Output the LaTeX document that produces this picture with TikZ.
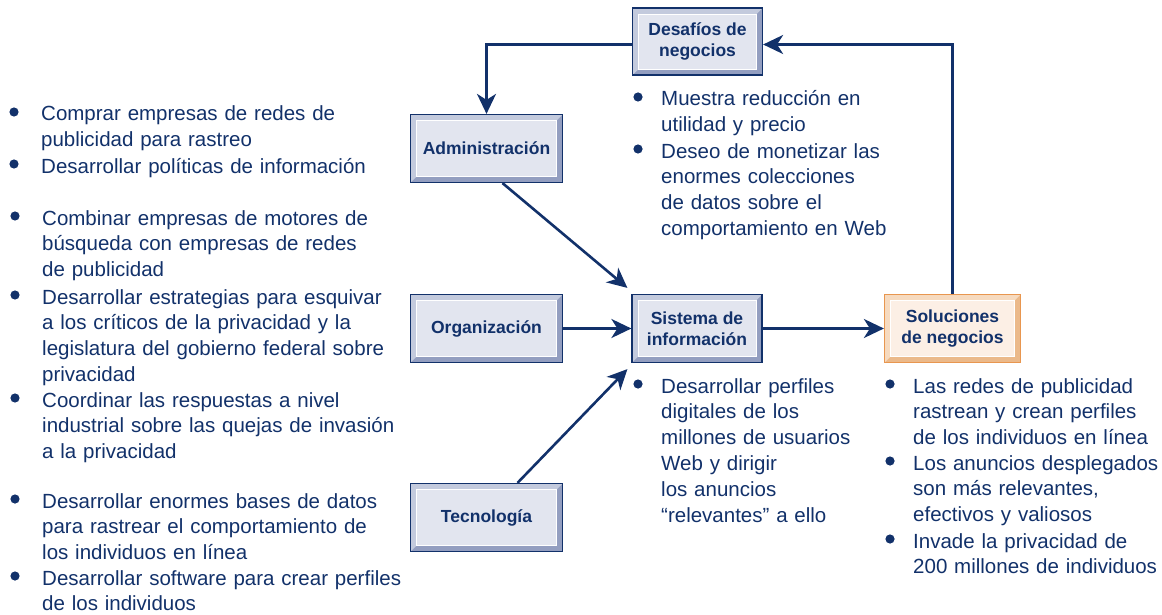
\documentclass[tikz,border=0pt]{standalone}
\usepackage{fontspec}
\setmainfont{Liberation Sans}
\usetikzlibrary{arrows.meta}

\definecolor{navy}{HTML}{12316A}
\definecolor{bluelight}{HTML}{C3CADD}
\definecolor{bluedark}{HTML}{939EC0}
\definecolor{blueface}{HTML}{E2E5EF}
\definecolor{orangeline}{HTML}{E8964F}
\definecolor{orangelight}{HTML}{F6DABF}
\definecolor{orangedark}{HTML}{EBB98A}
\definecolor{orangeface}{HTML}{FCEFE5}

\tikzset{
  bevel/.style 2 args={
    path picture={
      \fill[#1] (path picture bounding box.north west) -- (path picture bounding box.north east)
        -- ([shift={(-6pt,-6pt)}]path picture bounding box.north east)
        -- ([shift={(6pt,6pt)}]path picture bounding box.south west)
        -- (path picture bounding box.south west) -- cycle;
      \draw[white, line width=0.8pt, fill=#2] ([shift={(6pt,-6pt)}]path picture bounding box.north west)
        rectangle ([shift={(-6pt,6pt)}]path picture bounding box.south east);
    }
  },
  box/.style={draw=navy, line width=1.2pt, fill=bluedark, bevel={bluelight}{blueface},
    inner sep=0pt, minimum height=68pt, align=center, text=navy,
    font=\fontsize{17.5}{21}\selectfont\bfseries},
  orangebox/.style={box, draw=orangeline, fill=orangedark, bevel={orangelight}{orangeface}},
  txt/.style={anchor=base west, align=left, inner sep=0pt, text=navy, text width=#1,
    font=\fontsize{20.5}{25.8}\selectfont},
  txt/.default=250pt,
  flow/.style={draw=navy, line width=2.6pt, -{Stealth[length=20pt, width=19pt, inset=6pt]}}
}

\begin{document}
\begin{tikzpicture}[x=1pt, y=-1pt]
    \useasboundingbox (0,0) rectangle (1162,615);

    % Boxes
    \node[box, minimum width=130pt, minimum height=67pt] (des) at (697.5, 41.5) {Desafíos de\\negocios};
    \node[box, minimum width=152pt] (admin) at (486.5, 148.5) {Administración};
    \node[box, minimum width=152pt] (org) at (486.5, 328.5) {Organización};
    \node[box, minimum width=152pt] (tec) at (486.5, 517.5) {Tecnología};
    \node[box, minimum width=130pt] (sis) at (697, 328.5) {Sistema de\\información};
    \node[orangebox, minimum width=136pt] (sol) at (952.5, 328.5) {Soluciones\\de negocios};

    % Arrows
    \draw[flow] ([yshift=-3pt]des.west) -| (admin.north);
    \draw[flow] (sol.north) |- ([yshift=-3pt]des.east);
    \draw[flow] ([xshift=16pt]admin.south) -- ([shift={(-4pt,6pt)}]sis.north west);
    \draw[flow] (org.east) -- (sis.west);
    \draw[flow] ([xshift=31pt]tec.north) -- ([shift={(-4pt,-6pt)}]sis.south west);
    \draw[flow] (sis.east) -- (sol.west);

    % Left column
    \node[txt=365pt] (l1) at (41, 121) {Comprar empresas de redes de\\publicidad para rastreo};
    \node[txt=365pt] (l2) at (41, 173) {Desarrollar políticas de información};
    \node[txt=365pt] (l3) at (42, 225) {Combinar empresas de motores de\\búsqueda con empresas de redes\\de publicidad};
    \node[txt=365pt] (l4) at (42, 304) {Desarrollar estrategias para esquivar\\a los críticos de la privacidad y la\\legislatura del gobierno federal sobre\\privacidad};
    \node[txt=365pt] (l5) at (42, 407) {Coordinar las respuestas a nivel\\industrial sobre las quejas de invasión\\a la privacidad};
    \node[txt=365pt] (l6) at (42, 508) {Desarrollar enormes bases de datos\\para rastrear el comportamiento de\\los individuos en línea};
    \node[txt=365pt] (l7) at (42, 585) {Desarrollar software para crear perfiles\\de los individuos};
    \foreach \n in {l1,l2,l3,l4,l5,l6,l7}
        \fill[navy] ([shift={(-27pt,9pt)}]\n.base west) circle (4.6pt);

    % Under the challenges
    \node[txt] (d1) at (661, 106) {Muestra reducción en\\utilidad y precio};
    \node[txt] (d2) at (661, 158) {Deseo de monetizar las\\enormes colecciones\\de datos sobre el\\comportamiento en Web};

    % Under the system
    \node[txt] (s1) at (661, 393) {Desarrollar perfiles\\digitales de los\\millones de usuarios\\Web y dirigir\\los anuncios\\“relevantes” a ello};

    % Under the solutions
    \node[txt] (r1) at (913, 393) {Las redes de publicidad\\rastrean y crean perfiles\\de los individuos en línea};
    \node[txt] (r2) at (913, 470) {Los anuncios desplegados\\son más relevantes,\\efectivos y valiosos};
    \node[txt] (r3) at (913, 548) {Invade la privacidad de\\200 millones de individuos};
    \foreach \n in {d1,d2,s1,r1,r2,r3}
        \fill[navy] ([shift={(-23pt,9pt)}]\n.base west) circle (4.6pt);

\end{tikzpicture}
\end{document}
